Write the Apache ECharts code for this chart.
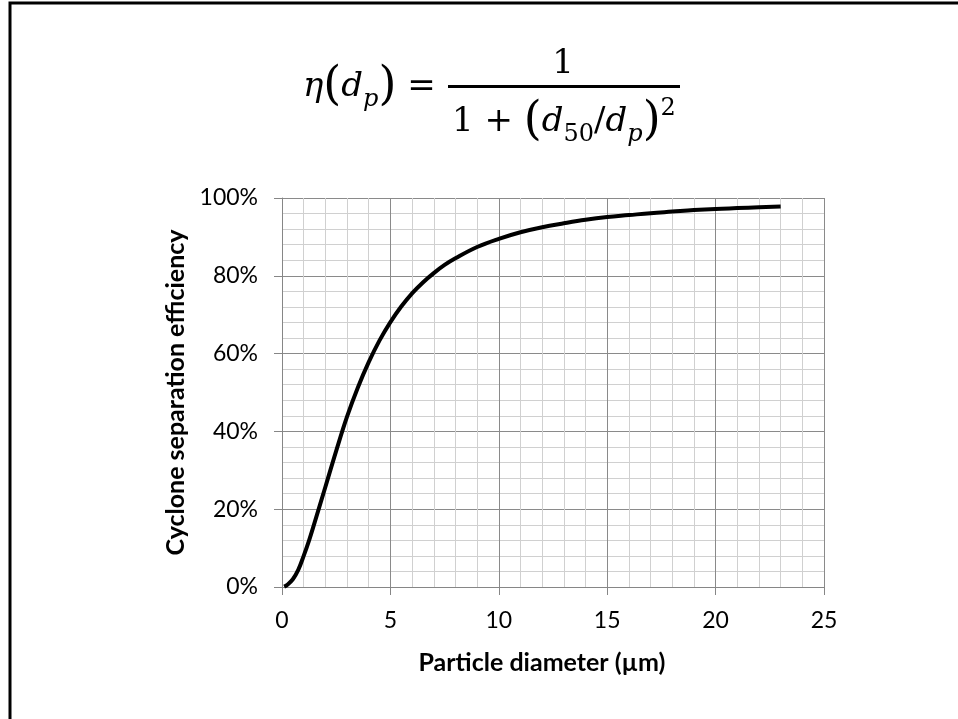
<!DOCTYPE html>
<html>
<head>
<meta charset="utf-8">
<script src="https://cdn.jsdelivr.net/npm/echarts@6/dist/echarts.min.js"></script>
<style>
  html, body { margin: 0; padding: 0; background: #fff; }
  #chart { width: 958px; height: 719px; }
</style>
</head>
<body>
<div id="chart"></div>
<script>
// particle diameter (um) and efficiency (%)
var diameters = [0.1, 0.25, 0.5, 0.75, 1, 1.25, 1.5, 2, 2.5, 3, 3.5, 4, 4.5, 5, 5.5, 6, 6.5, 7, 7.5, 8, 9, 10,
                 11, 12, 13, 14, 15, 16, 17, 18, 19, 20, 21, 22, 23];
var efficiency = [0.1, 0.6, 2.0, 4.4, 8, 12, 16.5, 25.7, 35, 43.8, 51.3, 57.8, 63.4, 68.1, 72.1, 75.5, 78.3, 80.7, 82.8, 84.5, 87.4, 89.5,
                  91.2, 92.5, 93.5, 94.4, 95.1, 95.6, 96.1, 96.5, 96.9, 97.2, 97.4, 97.6, 97.8];
var xTicks = [0, 5, 10, 15, 20, 25];
var yTicks = [0, 20, 40, 60, 80, 100];

var points = diameters.map((d, i) => [d, efficiency[i]]);

var labelFont = {fontFamily: 'Lato', fontSize: 23, color: '#000'};
var titleFont = {fontFamily: 'Lato', fontSize: 25, fontWeight: 'bold', color: '#000'};
var serif = 'DejaVu Serif';
var mathRich = {
    i: {fontFamily: serif, fontStyle: 'italic', fontSize: 34, lineHeight: 50, verticalAlign: 'middle'},
    n: {fontFamily: serif, fontSize: 34, lineHeight: 50, verticalAlign: 'middle'},
    p: {fontFamily: serif, fontSize: 46, lineHeight: 50, verticalAlign: 'middle'},
    s: {fontFamily: serif, fontStyle: 'italic', fontSize: 24, lineHeight: 30, verticalAlign: 'bottom'},
    d: {fontFamily: serif, fontSize: 24, lineHeight: 30, verticalAlign: 'bottom'},
    u: {fontFamily: serif, fontSize: 24, lineHeight: 30, verticalAlign: 'top'}
};

var chart = echarts.init(document.getElementById('chart'));
chart.setOption({
    animation: false,
    backgroundColor: '#fff',
    grid: {left: 282, right: 134, top: 198, bottom: 132},
    xAxis: {
        type: 'value',
        min: xTicks[0],
        max: xTicks[xTicks.length - 1],
        interval: 5,
        name: 'Particle diameter (\u00b5m)',
        nameLocation: 'middle',
        nameGap: 63,
        nameTextStyle: Object.assign({padding: [0, 22, 0, 0]}, titleFont),
        axisLine: {lineStyle: {color: '#868686', width: 1}},
        axisTick: {length: 8, lineStyle: {color: '#868686'}},
        axisLabel: Object.assign({margin: 22}, labelFont),
        splitLine: {lineStyle: {color: '#8a8a8a', width: 1}},
        minorTick: {show: false, splitNumber: 5},
        minorSplitLine: {show: true, lineStyle: {color: '#d0d0d0', width: 1}}
    },
    yAxis: {
        type: 'value',
        min: yTicks[0],
        max: yTicks[yTicks.length - 1],
        interval: 20,
        name: 'Cyclone separation efficiency',
        nameLocation: 'middle',
        nameGap: 88,
        nameTextStyle: titleFont,
        axisLine: {show: true, lineStyle: {color: '#868686', width: 1}},
        axisTick: {show: true, length: 8, lineStyle: {color: '#868686'}},
        axisLabel: Object.assign({margin: 24, formatter: '{value}%'}, labelFont),
        splitLine: {lineStyle: {color: '#8a8a8a', width: 1}},
        minorTick: {show: false, splitNumber: 5},
        minorSplitLine: {show: true, lineStyle: {color: '#d0d0d0', width: 1}}
    },
    series: [{
        type: 'line',
        data: points,
        smooth: 0.4,
        showSymbol: false,
        silent: true,
        lineStyle: {color: '#000', width: 4}
    }],
    graphic: [
        // slide frame: top and left edges only
        {type: 'polyline', shape: {points: [[10, 725], [10, 3], [960, 3]]}, style: {fill: 'none', stroke: '#000', lineWidth: 3}},
        // formula
        {type: 'text', x: 303, y: 87, style: {
            text: '{i|\u03b7}{p|(}{i|d}{s|p}{p|)}{n| =}',
            rich: mathRich, align: 'left', verticalAlign: 'middle'}},
        {type: 'text', x: 563, y: 64, style: {
            text: '{n|1}', rich: mathRich, align: 'center', verticalAlign: 'middle'}},
        {type: 'rect', shape: {x: 448, y: 85, width: 232, height: 3}, style: {fill: '#000'}},
        {type: 'text', x: 564, y: 122, style: {
            text: '{n|1 + }{p|(}{i|d}{d|50}{n|/}{i|d}{s|p}{p|)}{u|2}',
            rich: mathRich, align: 'center', verticalAlign: 'middle'}}
    ]
});
</script>
</body>
</html>
